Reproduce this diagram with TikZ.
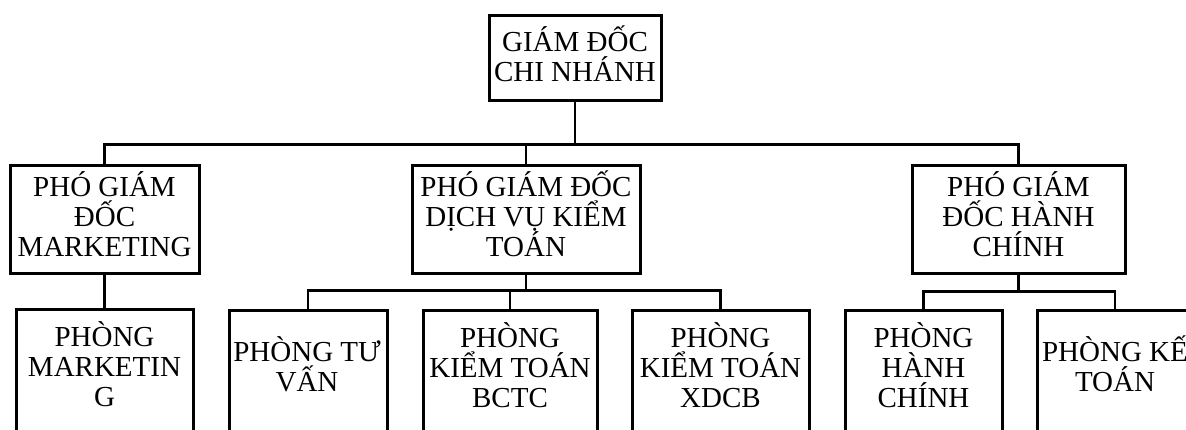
\documentclass[tikz,border=0pt]{standalone}
\usepackage{fontspec}
\setmainfont{Liberation Serif}
\begin{document}
\begin{tikzpicture}[x=1pt,y=-1pt,
  box/.style={draw=black, line width=3pt, rectangle, inner sep=0pt, fill=white},
  txt/.style={align=center, inner sep=0pt, text depth=0pt, anchor=south, font=\fontsize{29}{30}\selectfont},
  conn/.style={draw=black, line width=2.6pt}]
\useasboundingbox (0,0) rectangle (1186,429);
\clip (0,0) rectangle (1186,429);
\fill[white] (0,0) rectangle (1186,429);
\coordinate (bus0) at (575,146);
% boxes
\node[box, minimum width=172pt, minimum height=85pt] (gd) at (575,57.5) {};
\node[box, minimum width=189pt, minimum height=108pt] (p1) at (104.5,219) {};
\node[box, minimum width=228pt, minimum height=108pt] (p2) at (526,219) {};
\node[box, minimum width=213pt, minimum height=108pt] (p3) at (1018.5,219) {};
\node[box, minimum width=177pt, minimum height=124pt] (b1) at (104.5,371) {};
\node[box, minimum width=158pt, minimum height=124pt] (b2) at (308,372) {};
\node[box, minimum width=174pt, minimum height=124pt] (b3) at (510,372) {};
\node[box, minimum width=177pt, minimum height=124pt] (b4) at (720.5,372) {};
\node[box, minimum width=157pt, minimum height=124pt] (b5) at (923.5,372) {};
\node[box, minimum width=156pt, minimum height=124pt] (b6) at (1115,372) {};
% texts
\node[txt] (gdt) at (575,82) {GIÁM ĐỐC\\CHI NHÁNH};
\node[txt] (p1t) at (104.5,257) {PHÓ GIÁM\\ĐỐC\\MARKETING};
\node[txt] (p2t) at (526,257) {PHÓ GIÁM ĐỐC\\DỊCH VỤ KIỂM\\TOÁN};
\node[txt] (p3t) at (1018.5,257) {PHÓ GIÁM\\ĐỐC HÀNH\\CHÍNH};
\node[txt] (b1t) at (104.5,407) {PHÒNG\\MARKETIN\\G};
\node[txt] (b2t) at (307,392) {PHÒNG TƯ\\VẤN};
\node[txt] (b3t) at (510,408) {PHÒNG\\KIỂM TOÁN\\BCTC};
\node[txt] (b4t) at (720.5,408) {PHÒNG\\KIỂM TOÁN\\XDCB};
\node[txt] (b5t) at (923.5,408) {PHÒNG\\HÀNH\\CHÍNH};
\node[txt] (b6t) at (1115,392) {PHÒNG KẾ\\TOÁN};
% connectors
\draw[conn] (gd.south) -- (bus0);
\draw[conn] (p1.north) -- ++(0,-19) -| (p3.north);
\draw[conn] (p2.north) -- (p2.north |- bus0);
\draw[conn] (p1.south) -- (b1.north);
\draw[conn] (b2.north) -- ++(0,-18) coordinate (bus1) -| (b4.north);
\draw[conn] (p2.south) -- (p2.south |- bus1);
\draw[conn] (b3.north) -- (b3.north |- bus1);
\draw[conn] (b5.north) -- ++(0,-17) coordinate (bus2) -| (b6.north);
\draw[conn] (p3.south) -- (p3.south |- bus2);
\end{tikzpicture}
\end{document}
